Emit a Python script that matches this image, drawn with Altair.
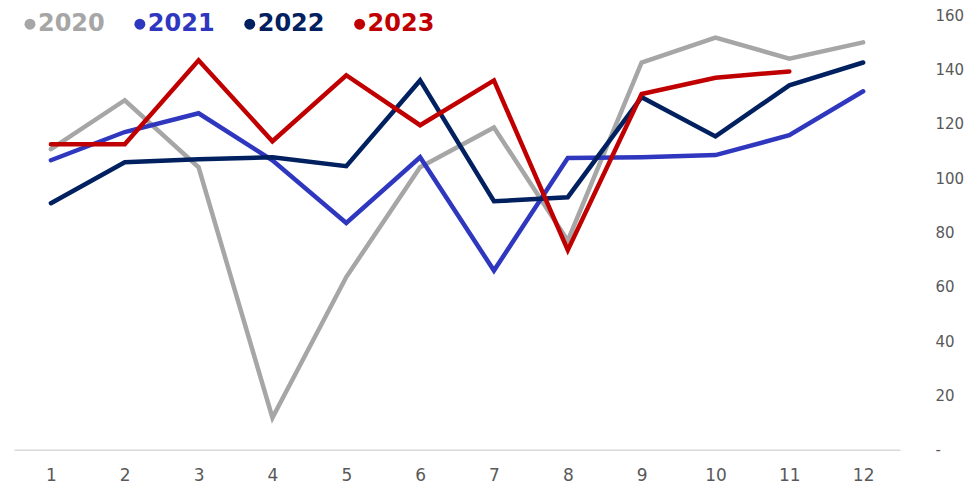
import altair as alt
import pandas as pd

months = list(range(1, 13))
years = ["2020", "2021", "2022", "2023"]
v2020 = [110.7, 128.7, 104.0, 11.8, 63.6, 104.0, 118.7, 77.0, 142.6, 151.8, 144.0, 150.0]
v2021 = [106.6, 117.0, 123.9, 106.6, 83.5, 107.7, 66.0, 107.4, 107.7, 108.5, 115.8, 132.0]
v2022 = [90.8, 105.9, 107.0, 107.7, 104.4, 136.0, 91.5, 93.0, 129.8, 115.4, 134.2, 142.6]
v2023 = [112.5, 112.5, 143.4, 113.6, 137.9, 119.5, 136.0, 73.5, 131.0, 137.0, 139.3, None]
colors = ["#A6A6A6", "#2F37BF", "#002060", "#C00000"]
y_ticks = [0, 20, 40, 60, 80, 100, 120, 140, 160]

series = [v2020, v2021, v2022, v2023]
rows = []
for yr, vals in zip(years, series):
    for m, v in zip(months, vals):
        if v is not None:
            rows.append({"month": m, "value": v, "year": yr})
df = pd.DataFrame(rows)

x_enc = alt.X(
    "month:O",
    scale=alt.Scale(type="point", padding=0.5),
    axis=alt.Axis(
        title=None, labelAngle=0, ticks=False, domain=True,
        domainColor="#D9D9D9", domainWidth=1.5,
        labelFont="DejaVu Sans", labelFontSize=17, labelColor="#595959",
        labelPadding=18, grid=False,
    ),
)
y_enc = alt.Y(
    "value:Q",
    scale=alt.Scale(domain=[0, 160], nice=False),
    axis=alt.Axis(
        title=None, orient="right", values=y_ticks, ticks=False, domain=False,
        grid=False, labelAlign="left", labelPadding=35,
        labelFont="DejaVu Sans", labelFontSize=15, labelColor="#595959",
        labelExpr="datum.value == 0 ? '-' : datum.label",
    ),
)

layers = []
for yr, col in zip(years, colors):
    layers.append(
        alt.Chart(df).transform_filter(alt.datum.year == yr)
        .mark_line(color=col, strokeWidth=4.5, strokeCap="round")
        .encode(x=x_enc, y=y_enc)
    )

leg_df = pd.DataFrame({"year": years, "color": colors})
bullet_x = [16, 126, 236, 346]
text_x = [24, 134, 244, 354]
for i, (yr, col) in enumerate(zip(years, colors)):
    d = leg_df[leg_df.year == yr]
    layers.append(
        alt.Chart(d).mark_point(filled=True, shape="circle", size=120, color=col, opacity=1)
        .encode(x=alt.value(bullet_x[i]), y=alt.value(9))
    )
    layers.append(
        alt.Chart(d).mark_text(font="DejaVu Sans", fontWeight="bold", fontSize=24,
                               color=col, align="left", baseline="alphabetic")
        .encode(x=alt.value(text_x[i]), y=alt.value(16), text="year:N")
    )

chart = alt.layer(*layers).properties(
    width=887, height=435,
    autosize=alt.AutoSizeParams(type="none"),
    padding={"left": 6, "top": 7, "right": 64, "bottom": 34},
).configure_view(stroke=None)

chart.save("out.html", embed_options={"renderer": "svg", "actions": False})
